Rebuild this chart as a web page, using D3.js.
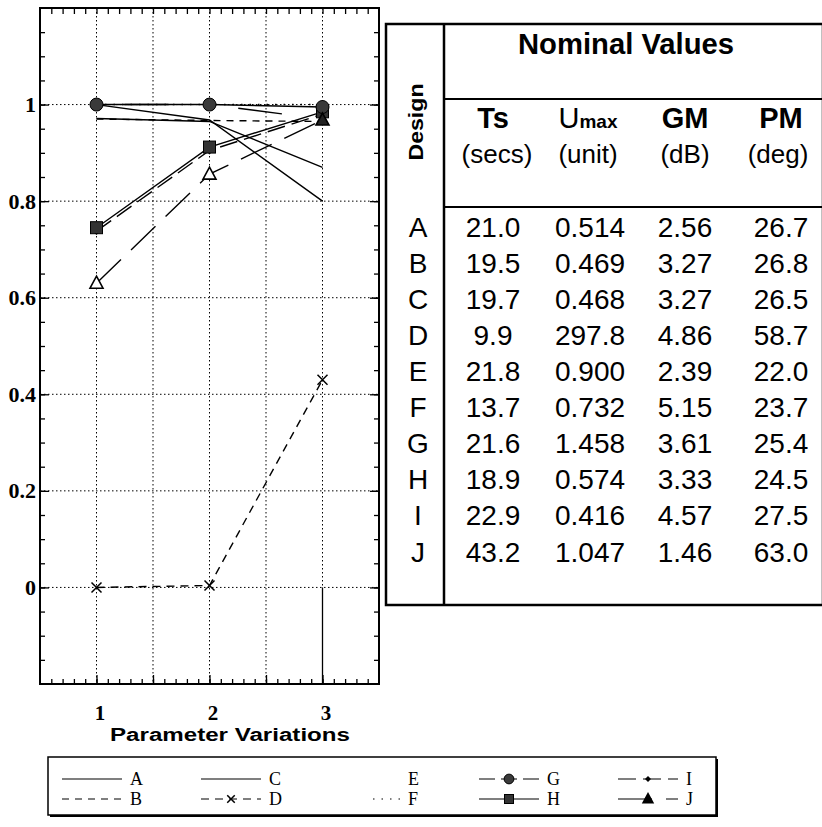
<!DOCTYPE html>
<html>
<head>
<meta charset="utf-8">
<script src="https://cdn.jsdelivr.net/npm/d3@7"></script>
<style>
  body { margin: 0; background: #fff; }
  svg { display: block; }
</style>
</head>
<body>
<svg id="fig" width="822" height="827"></svg>
<script>
// ---- data -------------------------------------------------------------
const variations = [1, 2, 3];
const designs = ["A", "B", "C", "D", "E", "F", "G", "H", "I", "J"];

// normalised performance for each design at the three parameter variations
const seriesA = [1.000, 0.968, 0.800];
const seriesB = [0.970, 0.967, 0.965];
const seriesC = [0.971, 0.965, 0.870];
const seriesD = [0.000, 0.004, 0.430];
const seriesE = [1.000, 1.000, 0.970];
const seriesF = [1.000, 1.000, 1.000];
const seriesG = [1.000, 1.000, 0.995];
const seriesH = [0.745, 0.912, 0.985];
const seriesI = [0.738, 0.905, 0.980];
const seriesJ = [0.630, 0.856, 0.968];

// drop line at variation 3 running off the bottom of the axes
const dropX = 3;
const dropFrom = 0;
const dropTo = -0.2;

const xTickValues = [1, 2, 3];
const xTickLabels = ["1", "2", "3"];
const yTickValues = [0, 0.2, 0.4, 0.6, 0.8, 1];
const yTickLabels = ["0", "0.2", "0.4", "0.6", "0.8", "1"];

// nominal values table
const tsSecs   = ["21.0", "19.5", "19.7", "9.9", "21.8", "13.7", "21.6", "18.9", "22.9", "43.2"];
const umaxUnit = ["0.514", "0.469", "0.468", "297.8", "0.900", "0.732", "1.458", "0.574", "0.416", "1.047"];
const gmDb     = ["2.56", "3.27", "3.27", "4.86", "2.39", "5.15", "3.61", "3.33", "4.57", "1.46"];
const pmDeg    = ["26.7", "26.8", "26.5", "58.7", "22.0", "23.7", "25.4", "24.5", "27.5", "63.0"];

// ---- styles -------------------------------------------------------------
const seriesValues = {A: seriesA, B: seriesB, C: seriesC, D: seriesD, E: seriesE,
                      F: seriesF, G: seriesG, H: seriesH, I: seriesI, J: seriesJ};
const lineStyle = {
  A: {dash: null},
  B: {dash: "7,6"},
  C: {dash: null},
  D: {dash: "8,6", marker: "cross"},
  E: {dash: "44,70", offset: 86, hideSample: true},
  F: {dash: "1.5,7", sampleFrom: 0.55},
  G: {dash: "16,6", marker: "circle"},
  H: {dash: "30,5", marker: "square"},
  I: {dash: "18,7", marker: "diamond"},
  J: {dash: "34,14", marker: "triangle"}
};

const svg = d3.select("#fig");
const serif = "'Liberation Serif', 'DejaVu Serif', serif";
const sans = "'Liberation Sans', Arial, Helvetica, sans-serif";

// ---- plot -------------------------------------------------------------
const P = {left: 40, right: 379, top: 8, bottom: 684};
const x = d3.scaleLinear().domain([0.5, 3.5]).range([P.left, P.right]);
const y = d3.scaleLinear().domain([-0.2, 1.2]).range([P.bottom, P.top]);

const plot = svg.append("g");

// dotted grid
plot.append("g").selectAll("line").data(d3.range(1, 3.01, 0.5)).join("line")
  .attr("x1", d => x(d)).attr("x2", d => x(d))
  .attr("y1", P.top).attr("y2", P.bottom)
  .attr("stroke", "#000").attr("stroke-width", 1).attr("stroke-dasharray", "1.5,2.5");
plot.append("g").selectAll("line").data(yTickValues).join("line")
  .attr("x1", P.left).attr("x2", P.right)
  .attr("y1", d => y(d)).attr("y2", d => y(d))
  .attr("stroke", "#000").attr("stroke-width", 1).attr("stroke-dasharray", "1.5,2.5");

// axes with inward ticks on all four sides
const xMinor = d3.range(6, 35).map(v => v / 10);
const xMajor = [1, 1.5, 2, 2.5, 3];
const yMinor = d3.range(-3, 24).map(v => v / 20);
function tickAxis(axisFn, scale, values, size, tr) {
  plot.append("g").attr("transform", tr)
    .call(axisFn(scale).tickValues(values).tickSize(-size).tickFormat(""))
    .call(g => g.select(".domain").remove())
    .call(g => g.selectAll("line").attr("stroke", "#000").attr("stroke-width", 1.3));
}
tickAxis(d3.axisBottom, x, xMinor, 5, `translate(0,${P.bottom})`);
tickAxis(d3.axisBottom, x, xMajor, 9, `translate(0,${P.bottom})`);
tickAxis(d3.axisTop, x, xMinor, 6, `translate(0,${P.top})`);
tickAxis(d3.axisLeft, y, yMinor, 5, `translate(${P.left},0)`);
tickAxis(d3.axisLeft, y, yTickValues, 9, `translate(${P.left},0)`);
tickAxis(d3.axisRight, y, yMinor, 5, `translate(${P.right},0)`);
tickAxis(d3.axisRight, y, yTickValues, 9, `translate(${P.right},0)`);

plot.append("rect")
  .attr("x", P.left).attr("y", P.top)
  .attr("width", P.right - P.left).attr("height", P.bottom - P.top)
  .attr("fill", "none").attr("stroke", "#000").attr("stroke-width", 2);

// tick labels
plot.append("g").attr("transform", `translate(${P.left},0)`)
  .call(d3.axisLeft(y).tickValues(yTickValues).tickSize(0).tickPadding(4)
        .tickFormat((d, i) => yTickLabels[i]))
  .call(g => g.select(".domain").remove())
  .call(g => g.selectAll("text").attr("font-family", serif).attr("font-weight", "bold")
        .attr("font-size", 22).attr("fill", "#000"));
plot.append("g").attr("transform", `translate(0,${P.bottom})`)
  .call(d3.axisBottom(x).tickValues(xTickValues).tickSize(0).tickPadding(21)
        .tickFormat((d, i) => xTickLabels[i]))
  .call(g => g.select(".domain").remove())
  .call(g => g.selectAll("text").attr("font-family", serif).attr("font-weight", "bold")
        .attr("font-size", 21).attr("fill", "#000").attr("dx", 3));

svg.append("text")
  .attr("x", 230).attr("y", 741)
  .attr("text-anchor", "middle")
  .attr("font-family", sans).attr("font-weight", "bold").attr("font-size", 18)
  .attr("textLength", 240).attr("lengthAdjust", "spacingAndGlyphs")
  .text("Parameter Variations");

// lines
const line = d3.line().x((d, i) => x(variations[i])).y(d => y(d));
const linesG = plot.append("g");
designs.forEach(k => {
  const st = lineStyle[k];
  linesG.append("path")
    .attr("d", line(seriesValues[k]))
    .attr("fill", "none").attr("stroke", "#000").attr("stroke-width", 1.4)
    .attr("stroke-dasharray", (k === "G" || k === "H") ? null : st.dash)
    .attr("stroke-dashoffset", st.offset || null);
});
linesG.append("line")
  .attr("x1", x(dropX)).attr("x2", x(dropX))
  .attr("y1", y(dropFrom)).attr("y2", y(dropTo))
  .attr("stroke", "#000").attr("stroke-width", 1.3);

// markers
function drawMarker(g, type, cx, cy, scale, fill) {
  const s = scale || 1;
  if (type === "circle") {
    g.append("circle").attr("cx", cx).attr("cy", cy).attr("r", 6.5 * s)
      .attr("fill", fill || "#3a3a3a").attr("stroke", "#000").attr("stroke-width", 1);
  } else if (type === "square") {
    g.append("rect").attr("x", cx - 6 * s).attr("y", cy - 6 * s)
      .attr("width", 12 * s).attr("height", 12 * s)
      .attr("fill", fill || "#333").attr("stroke", "#000").attr("stroke-width", 1);
  } else if (type === "triangle") {
    g.append("path").attr("transform", `translate(${cx},${cy})`)
      .attr("d", `M0,${-7 * s}L${6.5 * s},${5 * s}L${-6.5 * s},${5 * s}Z`)
      .attr("fill", fill || "#fff").attr("stroke", "#000").attr("stroke-width", 1.6);
  } else if (type === "diamond") {
    g.append("path").attr("transform", `translate(${cx},${cy})`)
      .attr("d", `M0,${-4 * s}L${4 * s},0L0,${4 * s}L${-4 * s},0Z`)
      .attr("fill", "#000");
  } else if (type === "cross") {
    const r = 5 * s;
    g.append("path").attr("transform", `translate(${cx},${cy})`)
      .attr("d", `M${-r},${-r}L${r},${r}M${-r},${r}L${r},${-r}`)
      .attr("stroke", "#000").attr("stroke-width", 1.5);
  }
}
const markG = plot.append("g");
["I", "H", "G", "J", "D"].forEach(k => {
  seriesValues[k].forEach((v, i) => {
    const fill = (k === "J" && i === 2) ? "#222" : null;
    drawMarker(markG, lineStyle[k].marker, x(variations[i]), y(v), 1, fill);
  });
});

// ---- nominal values table -------------------------------------------------
const T = {left: 386, right: 823, top: 24, bottom: 605, split: 444, line1: 99, line2: 207};
const tbl = svg.append("g");
tbl.append("rect")
  .attr("x", T.left).attr("y", T.top)
  .attr("width", T.right - T.left).attr("height", T.bottom - T.top)
  .attr("fill", "#fff").attr("stroke", "#000").attr("stroke-width", 2.5);
tbl.append("line").attr("x1", T.split).attr("x2", T.split)
  .attr("y1", T.top).attr("y2", T.bottom).attr("stroke", "#000").attr("stroke-width", 2.5);
[T.line1, T.line2].forEach(yy => tbl.append("line")
  .attr("x1", T.split).attr("x2", T.right).attr("y1", yy).attr("y2", yy)
  .attr("stroke", "#000").attr("stroke-width", 2));

tbl.append("text").attr("x", 626).attr("y", 54)
  .attr("text-anchor", "middle").attr("font-family", sans).attr("font-weight", "bold")
  .attr("font-size", 29).attr("textLength", 216).attr("lengthAdjust", "spacingAndGlyphs")
  .text("Nominal Values");
tbl.append("text").attr("transform", "translate(423,122) rotate(-90)")
  .attr("text-anchor", "middle").attr("font-family", sans).attr("font-weight", "bold")
  .attr("font-size", 21).attr("textLength", 77).attr("lengthAdjust", "spacingAndGlyphs")
  .text("Design");

const colX = [493, 590, 685, 781];
const head = tbl.append("g").attr("font-family", sans).attr("text-anchor", "middle").attr("fill", "#000");
head.append("text").attr("x", colX[0]).attr("y", 128).attr("font-weight", "bold").attr("font-size", 29).text("Ts");
const um = head.append("text").attr("x", colX[1] - 2).attr("y", 128).attr("font-weight", "bold");
um.append("tspan").attr("font-size", 29).attr("font-weight", "normal").text("U");
um.append("tspan").attr("font-size", 19).text("max");
head.append("text").attr("x", colX[2]).attr("y", 128).attr("font-weight", "bold").attr("font-size", 29).text("GM");
head.append("text").attr("x", colX[3]).attr("y", 128).attr("font-weight", "bold").attr("font-size", 29).text("PM");
["(secs)", "(unit)", "(dB)", "(deg)"].forEach((u, i) =>
  head.append("text").attr("x", colX[i] + (i === 0 ? 4 : i === 1 ? -2 : i === 3 ? -3 : 0))
    .attr("y", 163).attr("font-size", 26).text(u));

const rowY = d3.scaleLinear().domain([0, 9]).range([236.5, 561.5]);
const body = tbl.append("g").attr("font-family", sans).attr("font-size", 28)
  .attr("text-anchor", "middle").attr("fill", "#000");
designs.forEach((d, i) => {
  body.append("text").attr("x", 418).attr("y", rowY(i)).text(d);
  [tsSecs, umaxUnit, gmDb, pmDeg].forEach((col, j) =>
    body.append("text").attr("x", colX[j]).attr("y", rowY(i)).text(col[i]));
});

// ---- legend -------------------------------------------------------------
const L = {left: 48, top: 757, width: 668, height: 58};
const leg = svg.append("g");
leg.append("rect").attr("x", L.left + 2).attr("y", L.top + 2)
  .attr("width", L.width).attr("height", L.height).attr("fill", "#000");
leg.append("rect").attr("x", L.left).attr("y", L.top)
  .attr("width", L.width).attr("height", L.height)
  .attr("fill", "#fff").attr("stroke", "#000").attr("stroke-width", 1.5);
const colStep = 139, sampleLen = 60;
designs.forEach((k, i) => {
  const col = Math.floor(i / 2), row = i % 2;
  const sx = L.left + 14 + col * colStep;
  const sy = L.top + 22 + row * 20;
  const st = lineStyle[k];
  if (!st.hideSample) {
    leg.append("line").attr("x1", sx + sampleLen * (st.sampleFrom || 0)).attr("x2", sx + sampleLen)
      .attr("y1", sy).attr("y2", sy)
      .attr("stroke", "#000").attr("stroke-width", 1.2)
      .attr("stroke-dasharray", st.dash);
    if (st.marker) drawMarker(leg, st.marker, sx + sampleLen / 2, sy, 0.75, st.marker === "triangle" ? "#000" : null);
  }
  leg.append("text").attr("x", sx + sampleLen + 8).attr("y", sy + 6)
    .attr("font-family", serif).attr("font-size", 18).attr("fill", "#000").text(k);
});
</script>
</body>
</html>
